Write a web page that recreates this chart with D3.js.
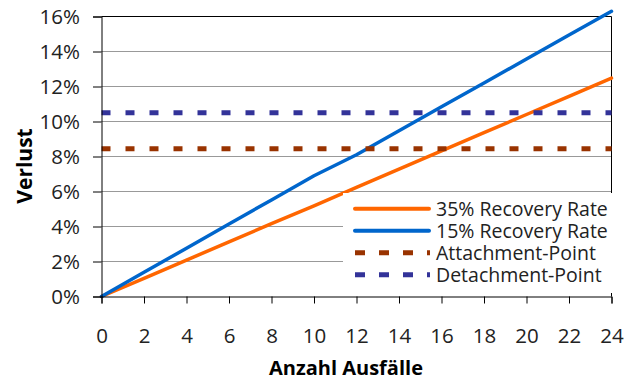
<!DOCTYPE html>
<html>
<head>
<meta charset="utf-8">
<script src="https://cdn.jsdelivr.net/npm/d3@7"></script>
<style>
  html, body { margin: 0; padding: 0; background: #fff; }
  svg { display: block; }
  text { font-family: "Open Sans", "DejaVu Sans", sans-serif; fill: #222; }
</style>
</head>
<body>
<svg id="chart" width="637" height="380"></svg>
<script>
// ---- data ----
const defaults = [0, 2, 4, 6, 8, 10, 12, 14, 16, 18, 20, 22, 24];
const rate35 = [0, 1.04, 2.08, 3.12, 4.16, 5.18, 6.24, 7.28, 8.32, 9.36, 10.4, 11.44, 12.48];
const rate15 = [0, 1.38, 2.76, 4.14, 5.52, 6.9, 8.1, 9.47, 10.84, 12.2, 13.57, 14.94, 16.3];
const attachmentPoint = [8.45, 8.45, 8.45, 8.45, 8.45, 8.45, 8.45, 8.45, 8.45, 8.45, 8.45, 8.45, 8.45];
const detachmentPoint = [10.5, 10.5, 10.5, 10.5, 10.5, 10.5, 10.5, 10.5, 10.5, 10.5, 10.5, 10.5, 10.5];
const yTicks = [0, 2, 4, 6, 8, 10, 12, 14, 16];
const xTicks = [0, 2, 4, 6, 8, 10, 12, 14, 16, 18, 20, 22, 24];
const seriesNames = ["35% Recovery Rate", "15% Recovery Rate", "Attachment-Point", "Detachment-Point"];
const xTitle = "Anzahl Ausfälle";
const yTitle = "Verlust";

const series = [
  { name: seriesNames[0], values: rate35, color: "#FF6600", dash: null, width: 3.5 },
  { name: seriesNames[1], values: rate15, color: "#0066CC", dash: null, width: 3.5 },
  { name: seriesNames[2], values: attachmentPoint, color: "#993300", dash: "9,15", width: 5 },
  { name: seriesNames[3], values: detachmentPoint, color: "#333399", dash: "9,15", width: 5 }
];

// ---- layout ----
const svg = d3.select("#chart");
const x = d3.scaleLinear().domain([0, 24]).range([101.5, 611.5]);
const y = d3.scaleLinear().domain([0, 16]).range([296.5, 16.5]);

// gridlines
svg.append("g")
  .selectAll("line")
  .data(yTicks.filter(d => d > 0 && d < 16))
  .join("line")
  .attr("x1", x(0)).attr("x2", x(24))
  .attr("y1", d => y(d)).attr("y2", d => y(d))
  .attr("stroke", "#999").attr("stroke-width", 1);

// frame: top and right
svg.append("line").attr("x1", x(0)).attr("x2", x(24)).attr("y1", y(16)).attr("y2", y(16))
  .attr("stroke", "#000").attr("stroke-width", 1);
svg.append("line").attr("x1", x(24)).attr("x2", x(24)).attr("y1", y(16)).attr("y2", y(0))
  .attr("stroke", "#000").attr("stroke-width", 1);

// series
const lineGen = (vals) => d3.line()
  .x((d, i) => x(defaults[i]))
  .y(d => y(d))(vals);

const gSeries = svg.append("g");
series.forEach(s => {
  gSeries.append("path")
    .attr("d", lineGen(s.values))
    .attr("fill", "none")
    .attr("stroke", s.color)
    .attr("stroke-width", s.width)
    .attr("stroke-linejoin", "round")
    .attr("stroke-linecap", s.dash ? "butt" : "round")
    .attr("stroke-dasharray", s.dash);
});

// axes
const yAxis = d3.axisLeft(y).tickValues(yTicks).tickSize(8.5).tickPadding(13)
  .tickFormat(d => d + "%");
const gy = svg.append("g").attr("transform", `translate(${x(0)},0)`).call(yAxis);
gy.select(".domain").attr("stroke", "#000");
gy.selectAll(".tick line").attr("stroke", "#000");
gy.selectAll(".tick text").style("font-size", "20.5px").style("fill", "#222");

const xAxis = d3.axisBottom(x).tickValues(xTicks).tickSize(7).tickPadding(25);
const gx = svg.append("g").attr("transform", `translate(0,${y(0)})`).call(xAxis);
gx.select(".domain").attr("stroke", "#000");
gx.selectAll(".tick line").attr("stroke", "#000");
gx.selectAll(".tick text").style("font-size", "20.5px").style("fill", "#222");

// axis titles
svg.append("text")
  .attr("x", 346).attr("y", 375)
  .attr("text-anchor", "middle")
  .style("font-size", "20px").style("font-weight", "bold").style("fill", "#000")
  .text(xTitle);
svg.append("text")
  .attr("transform", "translate(32,166) rotate(-90)")
  .attr("text-anchor", "middle")
  .style("font-size", "21px").style("font-weight", "bold").style("fill", "#000")
  .text(yTitle);

// legend
const legend = svg.append("g");
legend.append("rect")
  .attr("x", 343).attr("y", 193).attr("width", 280).attr("height", 100)
  .attr("fill", "#fff");
const rowY = [215.5, 237.5, 259.5, 281.5];
series.forEach((s, i) => {
  const g = legend.append("g");
  g.append("line")
    .attr("x1", 355).attr("x2", s.dash ? 430 : 429)
    .attr("y1", rowY[i] - 6.8).attr("y2", rowY[i] - 6.8)
    .attr("stroke", s.color)
    .attr("stroke-width", s.dash ? 5 : 4)
    .attr("stroke-linecap", s.dash ? "butt" : "round")
    .attr("stroke-dasharray", s.dash ? "10,14" : null);
  g.append("text")
    .attr("x", 436).attr("y", rowY[i])
    .style("font-size", "19.5px").style("fill", "#222")
    .text(s.name);
});
</script>
</body>
</html>
